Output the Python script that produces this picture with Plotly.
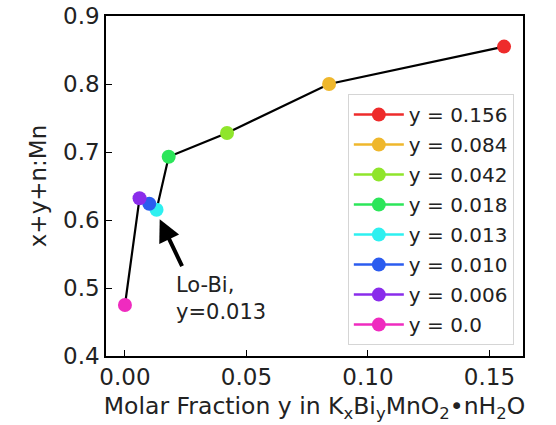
import plotly.graph_objects as go

y_frac = [0.156, 0.084, 0.042, 0.018, 0.013, 0.010, 0.006, 0.0]
ratio = [0.855, 0.800, 0.728, 0.693, 0.615, 0.624, 0.632, 0.475]
labels = ["y = 0.156", "y = 0.084", "y = 0.042", "y = 0.018", "y = 0.013", "y = 0.010", "y = 0.006", "y = 0.0"]
colors = ["#ee2b2b", "#efb72c", "#8fe52b", "#2ce65a", "#2ef0f0", "#2b5cef", "#8a2ceb", "#ef2bbf"]

FONT = "DejaVu Sans"
fig = go.Figure()

# black connecting line (sorted by x)
order = sorted(range(len(y_frac)), key=lambda i: y_frac[i])
fig.add_trace(go.Scatter(
    x=[y_frac[i] for i in order], y=[ratio[i] for i in order],
    mode="lines", line=dict(color="black", width=2.2), showlegend=False, hoverinfo="skip"))

for xv, yv, lab, c in zip(y_frac, ratio, labels, colors):
    fig.add_trace(go.Scatter(
        x=[xv], y=[yv], mode="lines+markers", name=lab, legendgroup=lab,
        line=dict(color=c, width=2.5), marker=dict(color=c, size=14)))

# annotation arrow
fig.add_annotation(x=0.0143, y=0.601, ax=0.0238, ay=0.530, xref="x", yref="y",
                   axref="x", ayref="y", text="", showarrow=True,
                   arrowhead=2, arrowsize=1.1, arrowwidth=4, arrowcolor="black")
fig.add_annotation(x=0.0200, y=0.485, xref="x", yref="y", text="Lo-Bi,<br>y=0.013",
                   showarrow=False, xanchor="left", yanchor="middle", align="left",
                   font=dict(family=FONT, size=21, color="#222"))

axis_common = dict(showline=True, linecolor="black", linewidth=1.5, mirror=True,
                   ticks="inside", ticklen=6, tickwidth=1.2, tickcolor="black",
                   showgrid=False, zeroline=False, automargin=False,
                   tickfont=dict(family=FONT, size=23, color="#222"))

fig.update_xaxes(range=[-0.0078, 0.1638], tickvals=[0.0, 0.05, 0.10, 0.15],
                 ticktext=["0.00", "0.05", "0.10", "0.15"],
                 title=dict(text="Molar Fraction y in K<sub>x</sub>Bi<sub>y</sub>MnO<sub>2</sub>•nH<sub>2</sub>O",
                            font=dict(family=FONT, size=23.5, color="#222"), standoff=8),
                 **axis_common)
fig.update_yaxes(range=[0.4, 0.9], tickvals=[0.4, 0.5, 0.6, 0.7, 0.8, 0.9],
                 ticktext=["0.4", "0.5", "0.6", "0.7", "0.8", "0.9"],
                 title=dict(text="x+y+n:Mn", font=dict(family=FONT, size=23, color="#222"), standoff=10),
                 **axis_common)

fig.update_layout(
    width=556, height=425, margin=dict(l=106, r=33, t=16, b=69),
    paper_bgcolor="white", plot_bgcolor="white",
    showlegend=True,
    legend=dict(x=0.978, y=0.032, xanchor="right", yanchor="bottom",
                bgcolor="rgba(255,255,255,0.9)", bordercolor="#d5d5d5", borderwidth=1,
                font=dict(family=FONT, size=20, color="#222"), tracegroupgap=1,
                itemwidth=50),
)

fig.write_html("out.html")
